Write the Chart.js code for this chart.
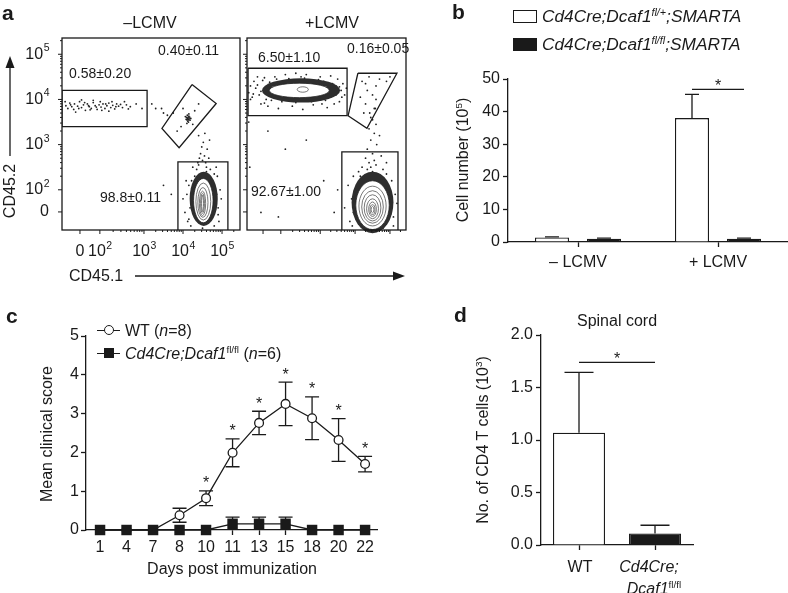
<!DOCTYPE html>
<html>
<head>
<meta charset="utf-8">
<script src="https://cdn.jsdelivr.net/npm/chart.js@4.4.1/dist/chart.umd.min.js"></script>
<style>
body { margin: 0; background: #fff; }
#fig { position: relative; width: 788px; height: 593px; overflow: hidden; background: #fff;
  font-family: 'Liberation Sans', Arial, Helvetica, sans-serif; color: #1a1a1a; }
#fig canvas { position: absolute; }
.t { position: absolute; white-space: nowrap; font-size: 16px; line-height: 1; transform: translateY(-50%); }
.c { transform: translate(-50%, -50%); }
.v { transform: translate(-50%, -50%) rotate(-90deg); }
.lab { position: absolute; font-weight: bold; font-size: 21px; line-height: 1; }
.pct { font-size: 14px; }
.leg { font-size: 17.3px; }
sup { font-size: 0.62em; vertical-align: 0.6em; line-height: 0; }
.box { position: absolute; border: 1.3px solid #1a1a1a; box-sizing: border-box; }
.hl { position: absolute; border-top: 1.3px solid #1a1a1a; height: 0; }
.circ { position: absolute; width: 10px; height: 10px; border: 1.3px solid #1a1a1a; border-radius: 50%; background: #fff; box-sizing: border-box; }
.sq { position: absolute; width: 10px; height: 10px; background: #1a1a1a; }
svg { position: absolute; left: 0; top: 0; }
</style>
</head>
<body>
<div id="fig">
  <canvas id="flowL" width="245" height="232" style="left:0px;top:30px"></canvas>
  <canvas id="flowR" width="170" height="232" style="left:243px;top:30px"></canvas>
  <canvas id="chartB" width="348" height="230" style="left:440px;top:60px"></canvas>
  <canvas id="chartC" width="400" height="293" style="left:0px;top:300px"></canvas>
  <canvas id="chartD" width="348" height="293" style="left:440px;top:300px"></canvas>

  <svg width="788" height="593">
    <line x1="10" y1="156" x2="10" y2="66" stroke="#1a1a1a" stroke-width="1.3"/>
    <polygon points="10,56 5.5,68 14.5,68" fill="#1a1a1a"/>
    <line x1="135" y1="276" x2="393" y2="276" stroke="#1a1a1a" stroke-width="1.3"/>
    <polygon points="405,276 393,271.5 393,280.5" fill="#1a1a1a"/>
  </svg>

  <!-- panel a -->
  <div class="lab" style="left:2px;top:2px">a</div>
  <div class="t c" style="left:150px;top:23px">–LCMV</div>
  <div class="t c" style="left:332px;top:23px">+LCMV</div>
  <div class="t v" style="left:10px;top:191px">CD45.2</div>
  <div class="t" style="left:69px;top:276px">CD45.1</div>
  <div class="t pct" style="left:158px;top:50px">0.40±0.11</div>
  <div class="t pct" style="left:69px;top:73px">0.58±0.20</div>
  <div class="t pct" style="left:100px;top:197px">98.8±0.11</div>
  <div class="t pct" style="left:258px;top:57px">6.50±1.10</div>
  <div class="t pct" style="left:347px;top:48px">0.16±0.05</div>
  <div class="t pct" style="left:251px;top:191px">92.67±1.00</div>

  <!-- panel b -->
  <div class="lab" style="left:452px;top:1px">b</div>
  <div class="box" style="left:513px;top:10px;width:24px;height:13px;background:#fff"></div>
  <div class="box" style="left:513px;top:38px;width:24px;height:13px;background:#1a1a1a"></div>
  <div class="t leg" style="left:542px;top:17px"><i>Cd4Cre;Dcaf1<sup>fl/+</sup>;SMARTA</i></div>
  <div class="t leg" style="left:542px;top:45px"><i>Cd4Cre;Dcaf1<sup>fl/fl</sup>;SMARTA</i></div>
  <div class="t v" style="left:463px;top:160px">Cell number (10<sup>5</sup>)</div>

  <!-- panel c -->
  <div class="lab" style="left:6px;top:305px">c</div>
  <div class="hl" style="left:97px;top:330px;width:23px"></div>
  <div class="circ" style="left:104px;top:325px"></div>
  <div class="t" style="left:125px;top:331px">WT (<i>n</i>=8)</div>
  <div class="hl" style="left:97px;top:353px;width:23px"></div>
  <div class="sq" style="left:104px;top:348px"></div>
  <div class="t" style="left:125px;top:354px"><i>Cd4Cre;Dcaf1</i><sup>fl/fl</sup> (<i>n</i>=6)</div>
  <div class="t v" style="left:47px;top:434px">Mean clinical score</div>
  <div class="t c" style="left:232px;top:569px">Days post immunization</div>

  <!-- panel d -->
  <div class="lab" style="left:454px;top:304px">d</div>
  <div class="t c" style="left:617px;top:321px">Spinal cord</div>
  <div class="t v" style="left:483px;top:440px">No. of CD4 T cells (10<sup>3</sup>)</div>
  <div class="t c" style="left:580px;top:567px">WT</div>
  <div class="t c" style="left:649px;top:567px"><i>Cd4Cre;</i></div>
  <div class="t c" style="left:654px;top:589px"><i>Dcaf1</i><sup>fl/fl</sup></div>
</div>

<script>
const ink = '#1a1a1a';
const font = "'Liberation Sans', Arial, Helvetica, sans-serif";
Chart.defaults.font.family = font;
Chart.defaults.color = ink;

// ---- panel a: flow plots (axis units: decades on the display scale) ----
const flowTickPosX = [1.36, 1.87, 3, 4, 5];
const flowTickPosY = [1.51, 2, 3, 4, 5];
const flowTickExp = [null, 2, 3, 4, 5];

const leftSingleDots = [[1.0,3.86],[1.05,3.8],[1.1,3.92],[1.15,3.84],[1.2,3.78],[1.22,3.9],[1.3,3.85],[1.35,3.95],
  [1.4,3.82],[1.45,3.88],[1.5,3.76],[1.55,3.9],[1.6,3.84],[1.65,3.8],[1.7,3.93],[1.75,3.86],[1.8,3.78],[1.85,3.88],
  [1.9,3.83],[1.95,3.9],[2.0,3.8],[2.05,3.86],[2.1,3.92],[2.15,3.82],[2.2,3.87],[2.25,3.79],[2.3,3.9],[2.35,3.85],
  [2.45,3.82],[2.55,3.88],[2.65,3.84],[2.8,3.9],[2.95,3.8],[1.25,3.72],[1.7,3.98],[2.1,3.74],[1.4,3.99],[0.98,3.95],
  [2.5,3.95],[1.12,3.88],[1.33,3.8],[1.58,3.86],[1.78,3.83],[1.92,3.76],[2.02,3.9],[2.28,3.84],[2.4,3.89],[1.48,3.93],
  [1.62,3.77],[1.88,3.95],[2.18,3.95],[2.6,3.79],[3.3,3.8],[3.5,3.7],[3.2,3.9]];
const leftDoubleDots = [[4.1,3.55],[4.13,3.6],[4.16,3.57],[4.12,3.52],[4.15,3.63],[4.09,3.6],[4.18,3.54],[4.11,3.65],
  [4.14,3.5],[4.08,3.56],[4.17,3.61],[4.13,3.56],[4.2,3.58],[4.06,3.62],[4.1,3.47],[4.15,3.68],[4.12,3.58],[4.14,3.55],
  [3.95,3.4],[4.3,3.75],[4.4,3.9],[3.85,3.3],[4.0,3.8],[4.25,3.45],[3.75,3.7],[3.6,3.65],[3.45,3.8]];
const leftMainDots = [[4.05,1.5],[4.1,1.9],[4.08,2.2],[4.12,1.3],[4.9,1.6],[4.95,2.0],[4.88,2.3],[4.92,1.3],[4.6,2.5],
  [4.4,2.55],[4.5,2.65],[4.55,2.75],[4.45,2.8],[4.62,2.9],[4.48,2.95],[4.58,2.6],[4.35,2.45],[4.7,2.45],[4.52,3.05],
  [4.42,2.7],[4.66,2.7],[4.3,2.3],[4.75,2.2],[4.2,1.2],[4.8,1.2],[4.5,1.15],[4.0,1.8],[4.98,1.8],[4.25,2.5],[4.68,3.1],
  [4.4,3.2],[3.7,1.9],[3.5,2.1],[4.56,3.25],[4.15,2.1],[4.85,2.5],[4.6,2.4],[4.38,2.6],[4.18,1.6],[4.86,1.9],
  [4.22,2.2],[4.8,2.35],[4.15,1.35],[4.9,1.45]];
const leftMainLevels = [[4.53,1.8,0.36,0.6],[4.52,1.76,0.25,0.49],[4.52,1.74,0.19,0.41],[4.51,1.72,0.13,0.33],
  [4.5,1.7,0.08,0.27],[4.5,1.7,0.05,0.22],[4.5,1.7,0.025,0.18]];

const rightSingleDots = [[0.95,4.15],[1.0,4.3],[1.05,4.05],[1.1,4.4],[1.0,4.0],[3.6,4.2],[3.7,4.1],[3.65,4.35],
  [3.5,4.45],[3.55,3.95],[3.4,3.9],[1.3,3.9],[1.5,3.85],[1.7,4.5],[2.0,4.55],[2.6,4.55],[3.0,4.5],[2.2,3.85],
  [2.8,3.88],[1.2,4.5],[3.75,4.25],[3.3,4.52],[1.8,3.8],[2.5,3.78],[3.2,3.82],[1.4,4.48],[2.3,4.58],[3.45,4.3],
  [1.15,4.25],[1.25,4.1],[1.2,4.32],[1.35,4.42],[1.45,4.0],[1.6,3.98],[1.75,4.45],[1.9,3.95],[2.1,4.46],[2.3,3.93],
  [2.55,4.47],[2.75,3.95],[2.95,4.44],[3.15,3.98],[3.35,4.35],[3.45,4.1],[3.55,4.28],[3.3,4.05],[1.3,4.18],
  [1.08,4.12],[3.62,4.05],[2.0,4.4],[2.7,4.4],[1.55,4.38],[3.1,4.4],[1.4,3.92],[3.05,3.9],[2.45,4.5],
  [1.5,3.3],[2.0,2.9],[0.95,3.5],[2.6,3.1],[1.3,1.5],[2.2,1.9],[1.8,1.4],[3.1,2.2],[0.98,2.5]];
const rightSingleLevels = [[2.45,4.2,1.12,0.27],[2.4,4.2,0.86,0.16],[2.5,4.22,0.16,0.06]];
const rightDoubleDots = [[4.2,4.4],[4.4,4.5],[4.6,4.3],[4.5,4.1],[4.3,3.9],[4.7,4.45],[4.35,4.2],[4.55,3.8],
  [4.9,4.4],[4.25,3.7],[4.45,3.6],[5.0,4.5],[4.15,4.05],[4.3,4.35],[4.6,4.0]];
const rightMainDots = [[3.85,1.3],[3.9,1.8],[3.8,2.1],[3.95,2.3],[5.1,1.4],[5.15,1.9],[5.05,2.2],[4.2,2.5],[4.4,2.6],
  [4.6,2.55],[4.8,2.45],[4.5,2.8],[4.35,2.9],[4.62,3.0],[4.45,3.1],[4.55,3.25],[4.7,3.2],[4.4,3.35],[4.6,3.45],
  [4.3,2.7],[4.75,2.75],[4.5,2.4],[4.25,1.15],[4.8,1.15],[3.7,1.6],[3.5,2.0],[3.4,1.5],[5.2,1.7],[4.9,2.6],[4.15,2.3],
  [4.5,3.55],[4.42,3.7],[4.58,3.8],[4.65,2.35],[4.35,2.45],[3.95,1.5],[4.0,2.0],[5.05,1.6],[5.0,1.95],[4.1,2.4],
  [4.9,2.35],[4.45,2.5],[4.55,2.65],[3.92,1.2],[5.1,1.2]];
const rightMainLevels = [[4.5,1.72,0.6,0.68],[4.5,1.66,0.48,0.54],[4.5,1.64,0.39,0.44],[4.5,1.62,0.31,0.36],
  [4.5,1.6,0.24,0.29],[4.5,1.58,0.17,0.22],[4.5,1.57,0.11,0.16],[4.5,1.56,0.07,0.11],[4.5,1.56,0.04,0.07]];

const leftGates = [
  [[0.9,4.2],[3.08,4.2],[3.08,3.4],[0.9,3.4],[0.9,4.2]],
  [[4.23,4.33],[4.85,3.91],[3.9,2.93],[3.46,3.36],[4.23,4.33]],
  [[3.87,1.11],[3.87,2.62],[5.15,2.62],[5.15,1.11]]
];
const rightGates = [
  [[0.93,4.69],[3.77,4.69],[3.77,3.64],[0.93,3.64],[0.93,4.69]],
  [[4.08,4.58],[5.2,4.58],[4.34,3.36],[3.8,3.64],[4.08,4.58]],
  [[3.62,1.11],[3.62,2.84],[5.23,2.84],[5.23,1.11]]
];

function minorTicks(majors, max) {
  const dec = majors.slice(1);
  const out = [];
  dec.forEach((p0, i) => {
    const p1 = i + 1 < dec.length ? dec[i + 1] : p0 + (p0 - dec[i - 1]);
    for (let k = 2; k <= 9; k++) {
      const v = p0 + Math.log10(k) * (p1 - p0);
      if (v < max) out.push(v);
    }
  });
  return out;
}

function drawPow(ctx, exp, x, y, align) {
  const base = exp === null ? '0' : '10';
  ctx.font = '16px ' + font;
  const wb = ctx.measureText(base).width;
  let we = 0;
  if (exp !== null) { ctx.font = '10.5px ' + font; we = ctx.measureText(String(exp)).width; }
  const start = align === 'right' ? x - wb - we : x - (wb + we) / 2;
  ctx.textAlign = 'left';
  ctx.textBaseline = 'middle';
  ctx.font = '16px ' + font;
  ctx.fillText(base, start, y);
  if (exp !== null) {
    ctx.font = '10.5px ' + font;
    ctx.fillText(String(exp), start + wb + 0.5, y - 6);
  }
}

function makeFlowPlugin(levelSets, gateCount, showLabels) {
  return {
    id: 'flowDecor',
    beforeDatasetDraw(chart, args) {
      if (args.index !== gateCount - 1) return;
      const { ctx, scales: { x, y } } = chart;
      ctx.save();
      levelSets.forEach(levels => {
        levels.forEach(([cx, cy, rx, ry], i) => {
          const px = x.getPixelForValue(cx), py = y.getPixelForValue(cy);
          const w = Math.abs(x.getPixelForValue(cx + rx) - px);
          const h = Math.abs(y.getPixelForValue(cy + ry) - py);
          ctx.beginPath();
          ctx.ellipse(px, py, w, h, 0, 0, Math.PI * 2);
          if (i === 0) { ctx.fillStyle = '#2e2e2e'; ctx.fill(); }
          else {
            if (i === 1) { ctx.fillStyle = '#fff'; ctx.fill(); }
            ctx.strokeStyle = i === 1 ? '#222' : '#555'; ctx.lineWidth = 0.8; ctx.stroke();
          }
        });
      });
      ctx.restore();
    },
    afterDraw(chart) {
      const { ctx, chartArea: a, scales: { x, y } } = chart;
      ctx.save();
      ctx.strokeStyle = ink; ctx.fillStyle = ink;
      ctx.lineWidth = 1.3;
      ctx.strokeRect(a.left, a.top, a.right - a.left, a.bottom - a.top);
      ctx.lineWidth = 1;
      ctx.beginPath();
      flowTickPosX.forEach(v => { const p = x.getPixelForValue(v); ctx.moveTo(p, a.bottom); ctx.lineTo(p, a.bottom + 4); });
      minorTicks(flowTickPosX, x.max).forEach(v => { const p = x.getPixelForValue(v); ctx.moveTo(p, a.bottom); ctx.lineTo(p, a.bottom + 2); });
      flowTickPosY.forEach(v => { const p = y.getPixelForValue(v); ctx.moveTo(a.left, p); ctx.lineTo(a.left - 4, p); });
      minorTicks(flowTickPosY, y.max).forEach(v => { const p = y.getPixelForValue(v); ctx.moveTo(a.left, p); ctx.lineTo(a.left - 2, p); });
      ctx.stroke();
      if (showLabels) {
        flowTickPosX.forEach((v, i) => drawPow(ctx, flowTickExp[i], x.getPixelForValue(v), a.bottom + 22, 'center'));
        flowTickPosY.forEach((v, i) => drawPow(ctx, flowTickExp[i], a.left - 13, y.getPixelForValue(v), 'right'));
      }
      ctx.restore();
    }
  };
}

function flowChart(id, gates, dotSets, levelSets, padding, showLabels) {
  const gateSets = gates.map(g => ({
    data: g.map(([x, y]) => ({ x, y })), showLine: true, pointRadius: 0,
    borderColor: ink, borderWidth: 1.3, fill: false
  }));
  const dots = dotSets.map(s => ({
    data: s.map(([x, y]) => ({ x, y })), showLine: false, pointRadius: 0.9,
    pointBackgroundColor: '#222', pointBorderWidth: 0
  }));
  new Chart(document.getElementById(id), {
    type: 'scatter',
    data: { datasets: [...gateSets, ...dots] },
    options: {
      responsive: false, animation: false, events: [], devicePixelRatio: 1,
      layout: { padding },
      plugins: { legend: { display: false }, tooltip: { enabled: false } },
      scales: {
        x: { type: 'linear', display: false, min: 0.9, max: 5.46 },
        y: { type: 'linear', display: false, min: 1.11, max: 5.36 }
      }
    },
    plugins: [makeFlowPlugin(levelSets, gateSets.length, showLabels)]
  });
}

flowChart('flowL', leftGates, [leftSingleDots, leftDoubleDots, leftMainDots], [leftMainLevels],
  { left: 62, top: 8, right: 5, bottom: 32 }, true);
flowChart('flowR', rightGates, [rightSingleDots, rightDoubleDots, rightMainDots], [rightSingleLevels, rightMainLevels],
  { left: 4, top: 8, right: 7, bottom: 32 }, false);

// ---- shared axis styling ----
function axis(extra) {
  return Object.assign({
    grid: { drawOnChartArea: false, tickLength: 5, tickColor: ink, tickWidth: 1.3, offset: false },
    border: { color: ink, width: 1.3 },
    ticks: { font: { size: 16 }, color: ink, maxRotation: 0, autoSkip: false }
  }, extra);
}

function makeBarDecor(errs, cap, sigLevel, sigPair) {
  return {
    id: 'barDecor',
    afterDatasetsDraw(chart) {
      const { ctx, scales: { y } } = chart;
      ctx.save();
      ctx.strokeStyle = ink; ctx.fillStyle = ink; ctx.lineWidth = 1.3;
      ctx.beginPath();
      errs.forEach((arr, d) => {
        chart.getDatasetMeta(d).data.forEach((bar, i) => {
          const v = chart.data.datasets[d].data[i];
          const top = y.getPixelForValue(v), hi = y.getPixelForValue(v + arr[i]);
          ctx.moveTo(bar.x, top); ctx.lineTo(bar.x, hi);
          ctx.moveTo(bar.x - cap / 2, hi); ctx.lineTo(bar.x + cap / 2, hi);
        });
      });
      const a = chart.getDatasetMeta(sigPair[0][0]).data[sigPair[0][1]];
      const b = chart.getDatasetMeta(sigPair[1][0]).data[sigPair[1][1]];
      const sy = y.getPixelForValue(sigLevel[0]);
      ctx.moveTo(a.x, sy); ctx.lineTo(b.x, sy);
      ctx.stroke();
      ctx.font = '16px ' + font;
      ctx.textAlign = 'center'; ctx.textBaseline = 'middle';
      ctx.fillText('*', (a.x + b.x) / 2, sy - 3);
      ctx.restore();
    }
  };
}

// ---- panel b ----
const bCats = ['– LCMV', '+ LCMV'];
const bHet = [1.4, 38.0];
const bHetErr = [0.2, 7.3];
const bKo = [1.0, 1.0];
const bKoErr = [0.2, 0.2];
const bSigLevel = [46.8];

new Chart(document.getElementById('chartB'), {
  type: 'bar',
  data: {
    labels: bCats,
    datasets: [
      { data: bHet, backgroundColor: '#fff', borderColor: ink, borderWidth: 1.3 },
      { data: bKo, backgroundColor: ink, borderColor: ink, borderWidth: 1.3 }
    ]
  },
  options: {
    responsive: false, animation: false, events: [], devicePixelRatio: 1,
    categoryPercentage: 0.743, barPercentage: 0.654,
    layout: { padding: { top: 19, right: 0, left: 0, bottom: 0 } },
    plugins: { legend: { display: false }, tooltip: { enabled: false } },
    scales: {
      x: axis({ afterFit: s => { s.height = 48; }, ticks: { font: { size: 16 }, color: ink, padding: 6, maxRotation: 0 } }),
      y: axis({ min: 0, max: 50, afterFit: s => { s.width = 68; },
        ticks: { stepSize: 10, font: { size: 16 }, color: ink, padding: 3 } })
    }
  },
  plugins: [makeBarDecor([bHetErr, bKoErr], 14, bSigLevel, [[0, 1], [1, 1]])]
});

// ---- panel c ----
const days = ['1', '4', '7', '8', '10', '11', '13', '15', '18', '20', '22'];
const wtMean = [0, 0, 0, 0.38, 0.82, 1.99, 2.76, 3.25, 2.88, 2.32, 1.70];
const wtErr = [0, 0, 0, 0.18, 0.19, 0.36, 0.30, 0.56, 0.55, 0.55, 0.20];
const wtSig = [false, false, false, false, true, true, true, true, true, true, true];
const koMean = [0, 0, 0, 0, 0, 0.16, 0.16, 0.16, 0, 0, 0];
const koErr = [0, 0, 0, 0, 0, 0.17, 0.17, 0.17, 0, 0, 0];

const clinicalDecor = {
  id: 'clinicalDecor',
  beforeDatasetsDraw(chart) {
    const { ctx, scales: { x, y } } = chart;
    ctx.save();
    ctx.strokeStyle = ink; ctx.lineWidth = 1.3;
    ctx.beginPath();
    wtMean.forEach((m, i) => {
      if (!wtErr[i]) return;
      const px = x.getPixelForValue(i);
      const hi = y.getPixelForValue(m + wtErr[i]), lo = y.getPixelForValue(m - wtErr[i]);
      ctx.moveTo(px, lo); ctx.lineTo(px, hi);
      ctx.moveTo(px - 7, hi); ctx.lineTo(px + 7, hi);
      ctx.moveTo(px - 7, lo); ctx.lineTo(px + 7, lo);
    });
    koMean.forEach((m, i) => {
      if (!koErr[i]) return;
      const px = x.getPixelForValue(i);
      const hi = y.getPixelForValue(m + koErr[i]);
      ctx.moveTo(px, y.getPixelForValue(m)); ctx.lineTo(px, hi);
      ctx.moveTo(px - 7, hi); ctx.lineTo(px + 7, hi);
    });
    ctx.stroke();
    ctx.restore();
  },
  afterDatasetsDraw(chart) {
    const { ctx, scales: { x, y } } = chart;
    ctx.save();
    ctx.fillStyle = ink;
    ctx.font = '16px ' + font;
    ctx.textAlign = 'center'; ctx.textBaseline = 'middle';
    wtMean.forEach((m, i) => {
      if (!wtSig[i]) return;
      ctx.fillText('*', x.getPixelForValue(i), y.getPixelForValue(m + wtErr[i]) - 7);
    });
    ctx.restore();
  }
};

new Chart(document.getElementById('chartC'), {
  type: 'line',
  data: {
    labels: days,
    datasets: [
      { data: koMean.map((v, i) => ({ x: i, y: v })), borderColor: ink, borderWidth: 1.3, pointStyle: 'rect',
        pointRadius: 7.4, pointBackgroundColor: ink, pointBorderColor: ink, pointBorderWidth: 0, clip: false },
      { data: wtMean.map((v, i) => ({ x: i, y: v })), borderColor: ink, borderWidth: 1.3, pointStyle: 'circle',
        pointRadius: 4.4, pointBackgroundColor: '#fff', pointBorderColor: ink, pointBorderWidth: 1.3, clip: false }
    ]
  },
  options: {
    responsive: false, animation: false, events: [], devicePixelRatio: 1,
    layout: { padding: { top: 36, right: 23, left: 0, bottom: 0 } },
    plugins: { legend: { display: false }, tooltip: { enabled: false } },
    scales: {
      x: axis({ type: 'linear', min: -0.53, max: 10.45,
        afterBuildTicks: s => { s.ticks = days.map((d, i) => ({ value: i })); },
        afterFit: s => { s.height = 63; },
        ticks: { callback: v => days[v], font: { size: 16 }, color: ink, padding: 3, maxRotation: 0, autoSkip: false } }),
      y: axis({ min: 0, max: 5, afterFit: s => { s.width = 86; },
        ticks: { stepSize: 1, font: { size: 16 }, color: ink, padding: 2 } })
    }
  },
  plugins: [clinicalDecor]
});

// ---- panel d ----
const dCats = ['WT', 'Cd4Cre;Dcaf1 fl/fl'];
const dMean = [1.07, 0.11];
const dErr = [0.575, 0.078];
const dSigLevel = [1.74];

new Chart(document.getElementById('chartD'), {
  type: 'bar',
  data: {
    labels: dCats,
    datasets: [{
      data: dMean, backgroundColor: ['#fff', ink], borderColor: ink, borderWidth: 1.3
    }]
  },
  options: {
    responsive: false, animation: false, events: [], devicePixelRatio: 1,
    categoryPercentage: 1, barPercentage: 0.684,
    layout: { padding: { top: 35, right: 95, left: 0, bottom: 0 } },
    plugins: { legend: { display: false }, tooltip: { enabled: false } },
    scales: {
      x: axis({ afterFit: s => { s.height = 48; },
        ticks: { callback: () => '', font: { size: 16 }, color: ink, padding: 6 } }),
      y: axis({ min: 0, max: 2, afterFit: s => { s.width = 101; },
        ticks: { stepSize: 0.5, callback: v => v.toFixed(1), font: { size: 16 }, color: ink, padding: 3 } })
    }
  },
  plugins: [makeBarDecor([dErr], 29, dSigLevel, [[0, 0], [0, 1]])]
});
</script>
</body>
</html>
